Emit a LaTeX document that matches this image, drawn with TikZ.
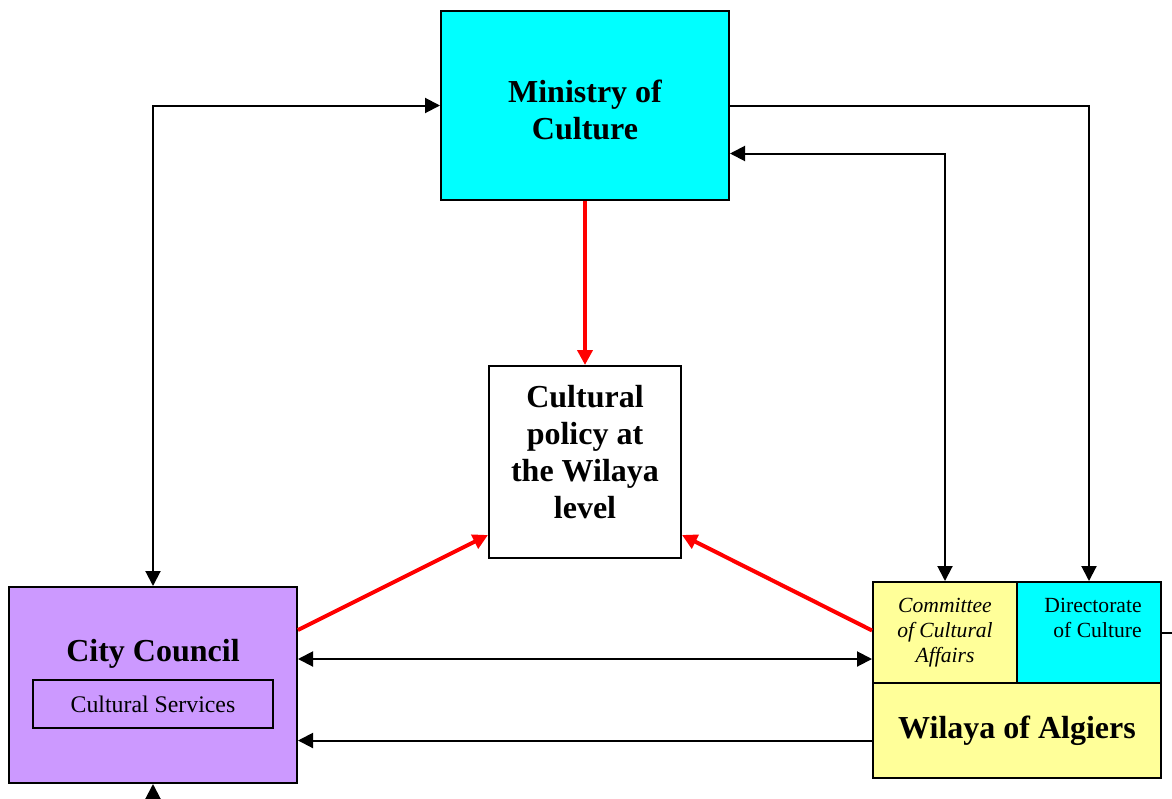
\documentclass[tikz,border=0pt]{standalone}
\usepackage{fontspec}
\setmainfont{Liberation Serif}
\usepackage{tikz}
\usetikzlibrary{arrows.meta,calc,positioning}
\definecolor{minblue}{RGB}{0,255,255}
\definecolor{lilac}{RGB}{204,153,255}
\definecolor{paleyellow}{RGB}{255,255,153}
\begin{document}
\begin{tikzpicture}[x=0.5pt,y=-0.5pt,
  box/.style={draw, line width=1pt, inner sep=0pt, align=center},
  big/.style={font=\fontsize{16}{18.5}\selectfont\bfseries, align=center},
  small/.style={font=\fontsize{10.8}{12.5}\selectfont},
  link/.style={line width=1pt, -{Triangle[length=7.5pt,width=7.5pt]}},
  dlink/.style={line width=1pt, {Triangle[length=7.5pt,width=7.5pt]}-{Triangle[length=7.5pt,width=7.5pt]}},
  redlink/.style={red, line width=2pt, -{Triangle[length=7.5pt,width=7.5pt]}}]
\useasboundingbox (0,0) rectangle (1172,798);
% boxes
\node[box, fill=minblue, minimum width=144pt, minimum height=94.5pt] (ministry) at (585,105.5) {};
\node[big] (ministrytext) at (585,110) {Ministry of\\Culture};
\node[box, fill=white, minimum width=96pt, minimum height=96pt] (policy) at (585,462) {};
\node[big] (policytext) at (585,452) {Cultural\\policy at\\the Wilaya\\level};
\node[box, fill=lilac, minimum width=144pt, minimum height=98pt] (council) at (153,685) {};
\node[big] (counciltitle) at (153,654) {City Council};
\node[box, minimum width=120pt, minimum height=24pt, font=\fontsize{11.9}{14}\selectfont] (services) at (153,704) {Cultural Services};
\node[box, small, fill=paleyellow, minimum width=72pt, minimum height=50.5pt] (committee) at (945,632.5) {\itshape Committee\\\itshape of Cultural\\\itshape Affairs};
\node[box, fill=minblue, minimum width=72pt, minimum height=50.5pt] (directorate) at (1089,632.5) {};
\node[small, align=right, anchor=north east, inner sep=0pt] (dirtext) at (1142,598) {Directorate\\of Culture};
\node[box, big, fill=paleyellow, minimum width=144pt, minimum height=47.5pt] (wilaya) at (1017,730.5) {Wilaya of Algiers};
% connectors
\coordinate (ministryport) at ([yshift=-24pt]ministry.east);
\coordinate (councilport) at ([yshift=13pt]council.east);
\coordinate (wilayaport) at ([yshift=-5pt]wilaya.west);
\coordinate (bottomend) at (153,802);
\coordinate (rightend) at (1176,632.5);
\draw[dlink] (council.north) |- (ministry.west);
\draw[link] (ministry.east) -| (directorate.north);
\draw[dlink] (ministryport) -| (committee.north);
\draw[redlink] (ministry.south) -- (policy.north);
\draw[redlink] ([yshift=27.5pt]council.east) -- ([yshift=-36.5pt]policy.west);
\draw[redlink] ([yshift=1pt]committee.west) -- ([yshift=-36.5pt]policy.east);
\draw[dlink] (councilport) -- (councilport -| committee.west);
\draw[link] (wilayaport) -- (wilayaport -| council.east);
\draw[link] (bottomend) -- (council.south);
\draw[line width=1pt] (directorate.east) -- (rightend);
\end{tikzpicture}
\end{document}
